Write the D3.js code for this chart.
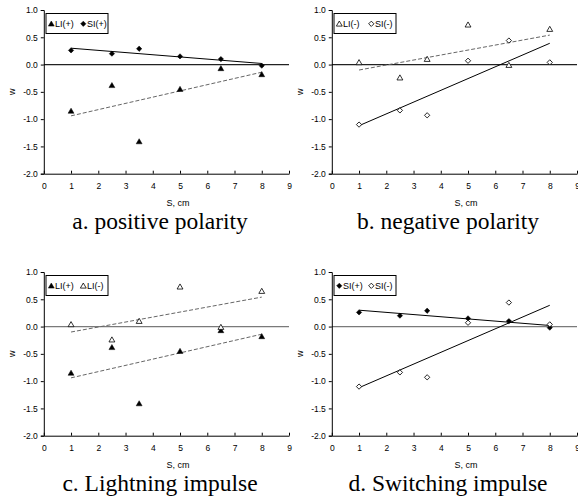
<!DOCTYPE html>
<html>
<head>
<meta charset="utf-8">
<script src="https://cdn.jsdelivr.net/npm/d3@7"></script>
<style>
  html, body { margin: 0; padding: 0; background: #fff; }
  svg { display: block; }
</style>
</head>
<body>
<div id="chart"></div>
<script>
// ── Data ──
const S = [1, 2.5, 3.5, 5, 6.5, 8];
const LIpos = [-0.85, -0.38, -1.41, -0.45, -0.07, -0.18];
const SIpos = [0.26, 0.20, 0.29, 0.15, 0.10, -0.02];
const LIneg = [0.04, -0.24, 0.10, 0.73, -0.01, 0.65];
const SIneg = [-1.10, -0.84, -0.93, 0.07, 0.44, 0.04];

// trend lines, drawn from S=1 to S=8
const trendS = [1, 8];
const trendLIpos = [-0.94, -0.14];
const trendSIpos = [0.30, 0.02];
const trendLIneg = [-0.10, 0.54];
const trendSIneg = [-1.12, 0.39];

const xTicks = [0, 1, 2, 3, 4, 5, 6, 7, 8, 9];
const yTicks = [-2.0, -1.5, -1.0, -0.5, 0.0, 0.5, 1.0];

(function () {
  const W = 578, H = 502;

  const svg = d3.select("#chart").append("svg")
    .attr("width", W).attr("height", H);

  // series definitions
  const LIp = { label: "LI(+)", vals: LIpos, trend: trendLIpos, shape: "tri", filled: true, dash: true };
  const SIp = { label: "SI(+)", vals: SIpos, trend: trendSIpos, shape: "dia", filled: true, dash: false };
  const LIn = { label: "LI(-)", vals: LIneg, trend: trendLIneg, shape: "tri", filled: false, dash: true };
  const SIn = { label: "SI(-)", vals: SIneg, trend: trendSIneg, shape: "dia", filled: false, dash: false };

  const panels = [
    { dx: 0,   dy: 0,   caption: "a. positive polarity", series: [LIp, SIp], zero: "#222" },
    { dx: 288, dy: 0,   caption: "b. negative polarity", series: [LIn, SIn], zero: "#222" },
    { dx: 0,   dy: 262, caption: "c. Lightning impulse", series: [LIp, LIn], zero: "#7a7a7a" },
    { dx: 288, dy: 262, caption: "d. Switching impulse", series: [SIp, SIn], zero: "#7a7a7a" }
  ];

  const x = d3.scaleLinear().domain([0, 9]).range([43.8, 289]);
  const y = d3.scaleLinear().domain([-2, 1]).range([173.7, 10]);

  const sym = {
    tri: d3.symbol().type(d3.symbolTriangle).size(15),
    dia: d3.symbol().type(d3.symbolSquare).size(14)
  };

  function marker(sel, s) {
    sel.append("path")
      .attr("d", sym[s.shape]())
      .attr("transform", s.shape === "dia" ? "rotate(45)" : "translate(0,0.6)")
      .attr("fill", s.filled ? "#000" : "#fff")
      .attr("stroke", "#000")
      .attr("stroke-width", s.filled ? 0.5 : 0.8);
  }

  panels.forEach(function (p) {
    const g = svg.append("g").attr("transform", `translate(${p.dx},${p.dy})`);
    const font = "Liberation Sans, Arial, sans-serif";

    // zero line
    g.append("line")
      .attr("x1", x(0)).attr("x2", x(9))
      .attr("y1", y(0)).attr("y2", y(0))
      .attr("stroke", p.zero).attr("stroke-width", 1.2);

    // axes
    const xAxis = g.append("g")
      .attr("transform", `translate(0,${y(-2)})`)
      .call(d3.axisBottom(x).tickValues(xTicks).tickSizeInner(-3).tickSizeOuter(0).tickPadding(9));
    const yAxis = g.append("g")
      .attr("transform", `translate(${x(0)},0)`)
      .call(d3.axisLeft(y).tickValues(yTicks).tickSizeOuter(0).tickSize(3).tickPadding(3)
        .tickFormat(d3.format(".1f")));
    [xAxis, yAxis].forEach(function (a) {
      a.selectAll("path, line").attr("stroke", "#000");
      a.selectAll("text").attr("font-family", font).attr("font-size", "8.5px").attr("fill", "#000");
    });
    yAxis.selectAll(".tick text").text(d => d3.format(".1f")(d).replace("−", "-"));

    // axis titles
    g.append("text")
      .attr("x", 178).attr("y", 206)
      .attr("text-anchor", "middle")
      .attr("font-family", font).attr("font-size", "9px")
      .text("S, cm");
    g.append("text")
      .attr("transform", `translate(15,${(y(1) + y(-2)) / 2}) rotate(-90)`)
      .attr("text-anchor", "middle")
      .attr("font-family", font).attr("font-size", "9px")
      .text("w");

    // trend lines
    p.series.forEach(function (s) {
      g.append("line")
        .attr("x1", x(trendS[0])).attr("y1", y(s.trend[0]))
        .attr("x2", x(trendS[1])).attr("y2", y(s.trend[1]))
        .attr("stroke", s.dash ? "#666" : "#000")
        .attr("stroke-width", 1)
        .attr("stroke-dasharray", s.dash ? "4,2" : null);
    });

    // points
    p.series.forEach(function (s) {
      g.append("g").selectAll("g.pt")
        .data(S.map((v, i) => [v, s.vals[i]]))
        .join("g")
        .attr("class", "pt")
        .attr("transform", d => `translate(${x(d[0])},${y(d[1])})`)
        .each(function () { marker(d3.select(this), s); });
    });

    // legend
    const lg = g.append("g").attr("transform", "translate(46,13.5)");
    lg.append("rect")
      .attr("x", 0).attr("y", 0).attr("width", 62).attr("height", 20)
      .attr("fill", "#fff").attr("stroke", "#000").attr("stroke-width", 1);
    p.series.forEach(function (s, i) {
      const item = lg.append("g").attr("transform", `translate(${5.3 + i * 32},10.3)`);
      marker(item.append("g"), s);
      item.append("text")
        .attr("x", 3.8).attr("y", 3.4)
        .attr("font-family", font).attr("font-size", "9px")
        .text(s.label);
    });

    // caption
    g.append("text")
      .attr("x", 160).attr("y", 229)
      .attr("text-anchor", "middle")
      .attr("font-family", "Liberation Serif, 'Times New Roman', serif")
      .attr("font-size", "23.5px")
      .text(p.caption);
  });
})();
</script>
</body>
</html>
